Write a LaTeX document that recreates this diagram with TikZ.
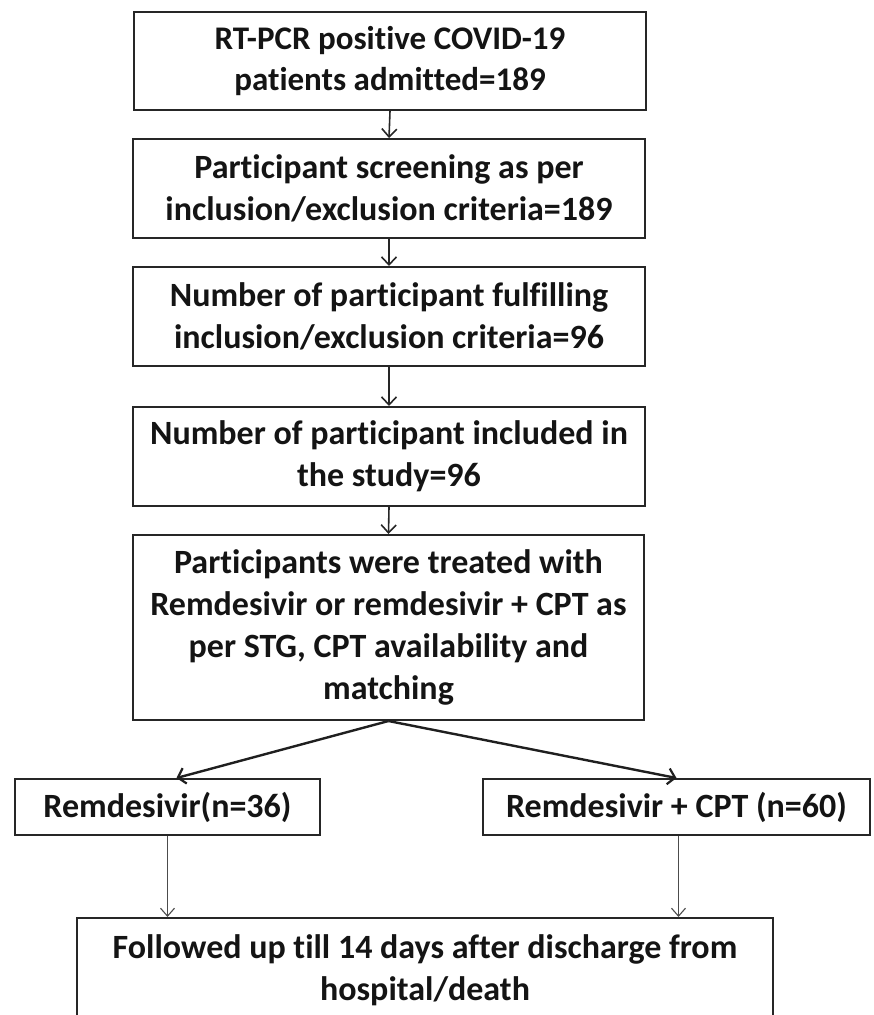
\documentclass[tikz,border=0pt]{standalone}
\usepackage{fontspec}
\setmainfont{Carlito}[Ligatures={NoCommon}]
\usetikzlibrary{arrows.meta,calc}
\begin{document}
\begin{tikzpicture}[x=1pt,y=-1pt,
  box/.style={draw=black!85, line width=2pt, fill=white, align=center, inner sep=0pt,
    font=\fontsize{34}{42}\selectfont\bfseries, text=black!92},
  varr/.style={draw=black!85, line width=1.6pt, -{Straight Barb[length=8pt,width=15pt,line width=1.6pt]}},
  darr/.style={draw=black!88, line width=2.4pt, -{Straight Barb[length=7pt,width=16pt,line width=2.2pt]}},
  garr/.style={draw=black!70, line width=1.1pt, -{Straight Barb[length=8pt,width=14pt,line width=1.1pt]}}
]
\useasboundingbox (0,0) rectangle (874,1015);
\node[box, font=\fontsize{33}{41}\selectfont\bfseries, minimum width=512pt, minimum height=98pt] (b1) at (390,61)
  {RT-PCR positive COVID-19\\patients admitted=189};
\node[box, minimum width=512pt, minimum height=99pt] (b2) at (389,188.5)
  {Participant screening as per\\inclusion/exclusion criteria=189};
\node[box, minimum width=512pt, minimum height=99pt] (b3) at (389,316.5)
  {Number of participant fulfilling\\inclusion/exclusion criteria=96};
\node[box, minimum width=512pt, minimum height=99pt] (b4) at (389,456.5)
  {Number of participant included in\\the study=96};
\node[box, minimum width=511pt, minimum height=185pt] (b5) at (388.5,627.5)
  {Participants were treated with\\Remdesivir or remdesivir + CPT as\\per STG, CPT availability and\\matching};
\node[box, minimum width=305pt, minimum height=56pt] (bL) at (167.5,807)
  {Remdesivir(n=36)};
\node[box, minimum width=387pt, minimum height=56pt] (bR) at (676.5,807)
  {Remdesivir + CPT (n=60)};
\node[box, minimum width=696pt, minimum height=104pt] (bF) at (425,970)
  {Followed up till 14 days after discharge from\\hospital/death};

\draw[varr] (b1.south) -- (b2.north);
\draw[varr] (b2.south) -- (b3.north);
\draw[varr] (b3.south) -- (b4.north);
\draw[varr] (b4.south) -- (b5.north);
\draw[darr] (b5.south) -- ($(bL.north)+(9,0)$);
\draw[darr] (b5.south) -- (bR.north);
\draw[garr] (bL.south) -- (bL.south |- bF.north);
\draw[garr] ($(bR.south)+(2,0)$) -- ($(bR.south |- bF.north)+(2,0)$);
\end{tikzpicture}
\end{document}
